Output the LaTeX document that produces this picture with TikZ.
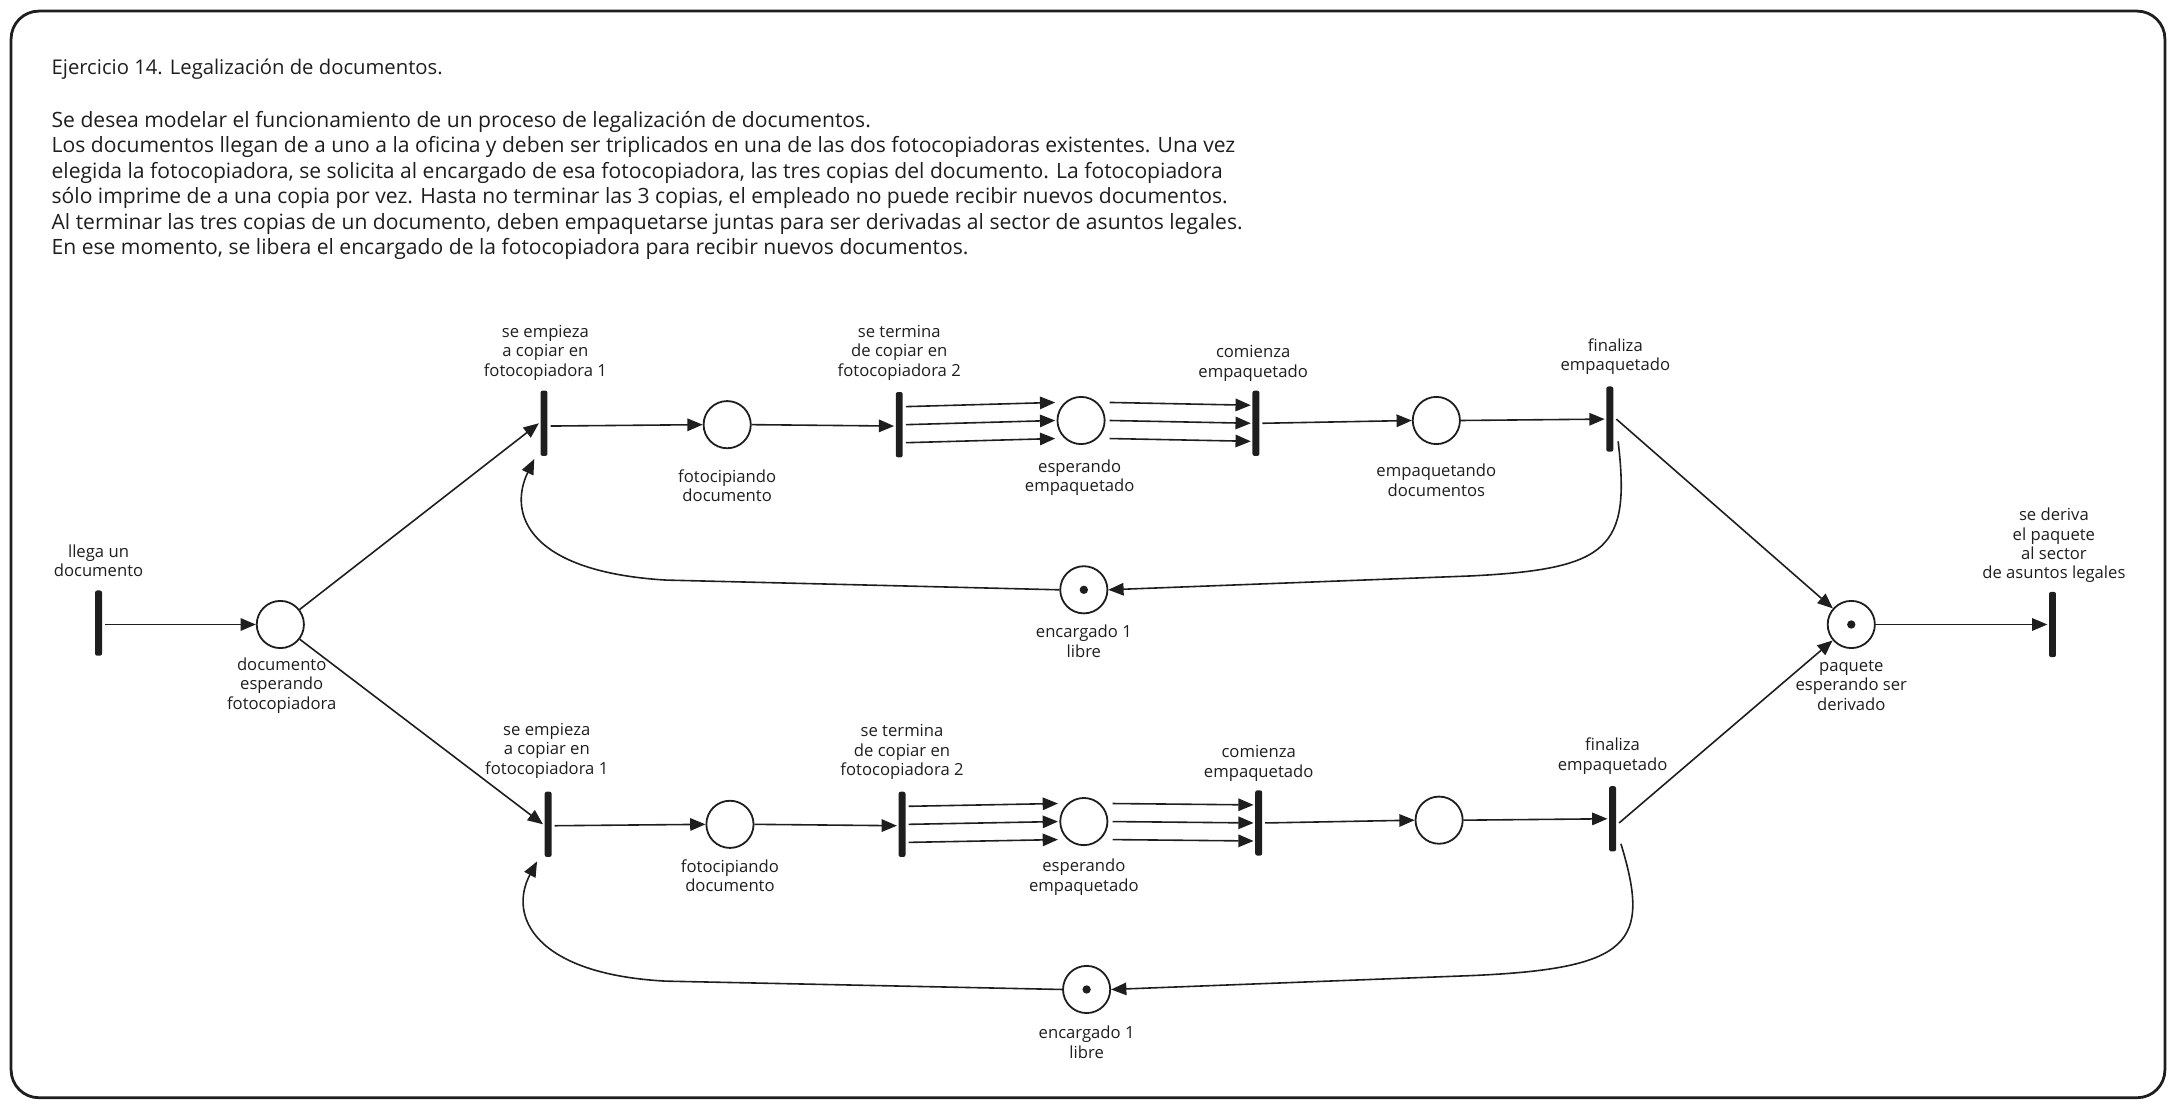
\documentclass[tikz,border=0pt]{standalone}
\usepackage{fontspec}
\setmainfont{Open Sans}
\usetikzlibrary{arrows.meta,calc}
\definecolor{ink}{RGB}{30,30,30}
\begin{document}
\begin{tikzpicture}[x=1pt,y=-1pt,
  bar/.style={fill=ink, draw=none, rounded corners=1.5pt, minimum width=5pt, minimum height=47pt, inner sep=0pt},
  place/.style={circle, draw=ink, line width=1.3pt, minimum size=34pt, inner sep=0pt},
  tok/.style={circle, fill=ink, minimum size=6pt, inner sep=0pt},
  arr/.style={draw=ink, line width=1.15pt, -{Triangle[length=11pt,width=9pt]}},
  lbl/.style={font=\fontsize{12}{14}\selectfont, align=center, inner sep=0pt, text=ink},
  txt/.style={font=\fontsize{15.2}{18.3}\selectfont, align=left, inner sep=0pt, text=ink},
]
\useasboundingbox (0,0) rectangle (1568,798);
\draw[ink, line width=2pt, rounded corners=20pt] (8,8) rectangle (1560,791);

\node[txt, anchor=base west, font=\fontsize{14.6}{18.3}\selectfont] (title) at (37,54) {Ejercicio 14. Legalización de documentos.};
\node[txt, anchor=north west] (body) at (37,80) {Se desea modelar el funcionamiento de un proceso de legalización de documentos.\\
Los documentos llegan de a uno a la oficina y deben ser triplicados en una de las dos fotocopiadoras existentes. Una vez\\
elegida la fotocopiadora, se solicita al encargado de esa fotocopiadora, las tres copias del documento. La fotocopiadora\\
sólo imprime de a una copia por vez. Hasta no terminar las 3 copias, el empleado no puede recibir nuevos documentos.\\
Al terminar las tres copias de un documento, deben empaquetarse juntas para ser derivadas al sector de asuntos legales.\\
En ese momento, se libera el encargado de la fotocopiadora para recibir nuevos documentos.};

% left
\node[bar] (T0) at (71,449) {};
\node[lbl] (T0l) at (71,404) {llega un\\documento};
\node[place] (P0) at (202,450) {};
\node[lbl] (P0l) at (203,494) {documento\\esperando\\fotocopiadora};

% top branch
\node[bar] (T1) at (392,305) {};
\node[lbl] (T1l) at (393,254) {se empieza\\a copiar en\\fotocopiadora 1};
\node[place] (P1) at (524,306) {};
\node[lbl] (P1l) at (524,350) {fotocipiando\\documento};
\node[bar] (T2) at (648,306) {};
\node[lbl] (T2l) at (648,254) {se termina\\de copiar en\\fotocopiadora 2};
\node[place] (P2) at (779,303) {};
\node[lbl] (P2l) at (778,344) {esperando\\empaquetado};
\node[bar] (T3) at (905,305) {};
\node[lbl] (T3l) at (903,262) {comienza\\empaquetado};
\node[place] (P3) at (1035,303) {};
\node[lbl] (P3l) at (1035,346) {empaquetando\\documentos};
\node[bar] (T4) at (1160,302) {};
\node[lbl] (T4l) at (1164,257) {finaliza\\empaquetado};
\node[place] (P4) at (781,425) {};
\node[tok] (P4t) at (P4) {};
\node[lbl] (P4l) at (781,462) {encargado 1\\libre};

% bottom branch
\node[bar] (T1b) at (395,594) {};
\node[lbl] (T1bl) at (394,541) {se empieza\\a copiar en\\fotocopiadora 1};
\node[place] (P1b) at (526,594) {};
\node[lbl] (P1bl) at (526,631) {fotocipiando\\documento};
\node[bar] (T2b) at (650,594) {};
\node[lbl] (T2bl) at (650,542) {se termina\\de copiar en\\fotocopiadora 2};
\node[place] (P2b) at (781,592) {};
\node[lbl] (P2bl) at (781,632) {esperando\\empaquetado};
\node[bar] (T3b) at (907,593) {};
\node[lbl] (T3bl) at (907,550) {comienza\\empaquetado};
\node[place] (P3b) at (1037,591) {};
\node[bar] (T4b) at (1162,590) {};
\node[lbl] (T4bl) at (1162,545) {finaliza\\empaquetado};
\node[place] (P4b) at (783,713) {};
\node[tok] (P4bt) at (P4b) {};
\node[lbl] (P4bl) at (783,751) {encargado 1\\libre};

% right
\node[place] (P5) at (1334,450) {};
\node[tok] (P5t) at (P5) {};
\node[lbl] (P5l) at (1334,494) {paquete\\esperando ser\\derivado};
\node[bar] (T5) at (1479,450) {};
\node[lbl] (T5l) at (1480,393) {se deriva\\el paquete\\al sector\\de asuntos legales};

% connectors
\draw[arr] ($(T0.east)+(2,1)$) -- (P0.west);
\draw[arr] (P0) -- ($(T1.west)+(-1,0)$);
\draw[arr] (P0) -- ($(T1b.west)+(-1,0)$);

\draw[arr] ($(T1.east)+(2,2)$) -- (P1.west);
\draw[arr] (P1.east) -- ($(T2.west)+(-1,1)$);
\foreach \d in {-13,0,13}{
  \draw[arr] ($(T2.east)+(2,\d)$) -- ($(P2.west)+(-1,\d)$);
  \draw[arr] ($(P2.east)+(3,\d)$) -- ($(T3.west)+(-1,\d)$);
  \draw[arr] ($(T2b.east)+(2,\d)$) -- ($(P2b.west)+(-1,\d)$);
  \draw[arr] ($(P2b.east)+(3,\d)$) -- ($(T3b.west)+(-1,\d)$);
}
\draw[arr] ($(T3.east)+(2,0)$) -- (P3.west);
\draw[arr] (P3.east) -- ($(T4.west)+(-1,0)$);
\draw[arr] ($(T4.east)+(2,0)$) -- (P5);
\draw[arr] ($(T4.center)+(6,16)$) .. controls (1175,395) and (1160,410) .. (1060,415) -- (P4.east);
\draw[arr] (P4.west) -- (480,418) .. controls (380,412) and (366,370) .. ($(T1.south)+(-7,2)$);

\draw[arr] ($(T1b.east)+(2,1)$) -- (P1b.west);
\draw[arr] (P1b.east) -- ($(T2b.west)+(-1,1)$);
\draw[arr] ($(T3b.east)+(2,0)$) -- (P3b.west);
\draw[arr] (P3b.east) -- ($(T4b.west)+(-1,0)$);
\draw[arr] ($(T4b.east)+(2,3)$) -- (P5);
\draw[arr] ($(T4b.center)+(6,18)$) .. controls (1190,680) and (1175,698) .. (1060,703) -- (P4b.east);
\draw[arr] (P4b.west) -- (480,707) .. controls (385,702) and (366,660) .. ($(T1b.south)+(-8,3)$);

\draw[arr] (P5.east) -- ($(T5.west)+(-1,0)$);
\end{tikzpicture}
\end{document}
